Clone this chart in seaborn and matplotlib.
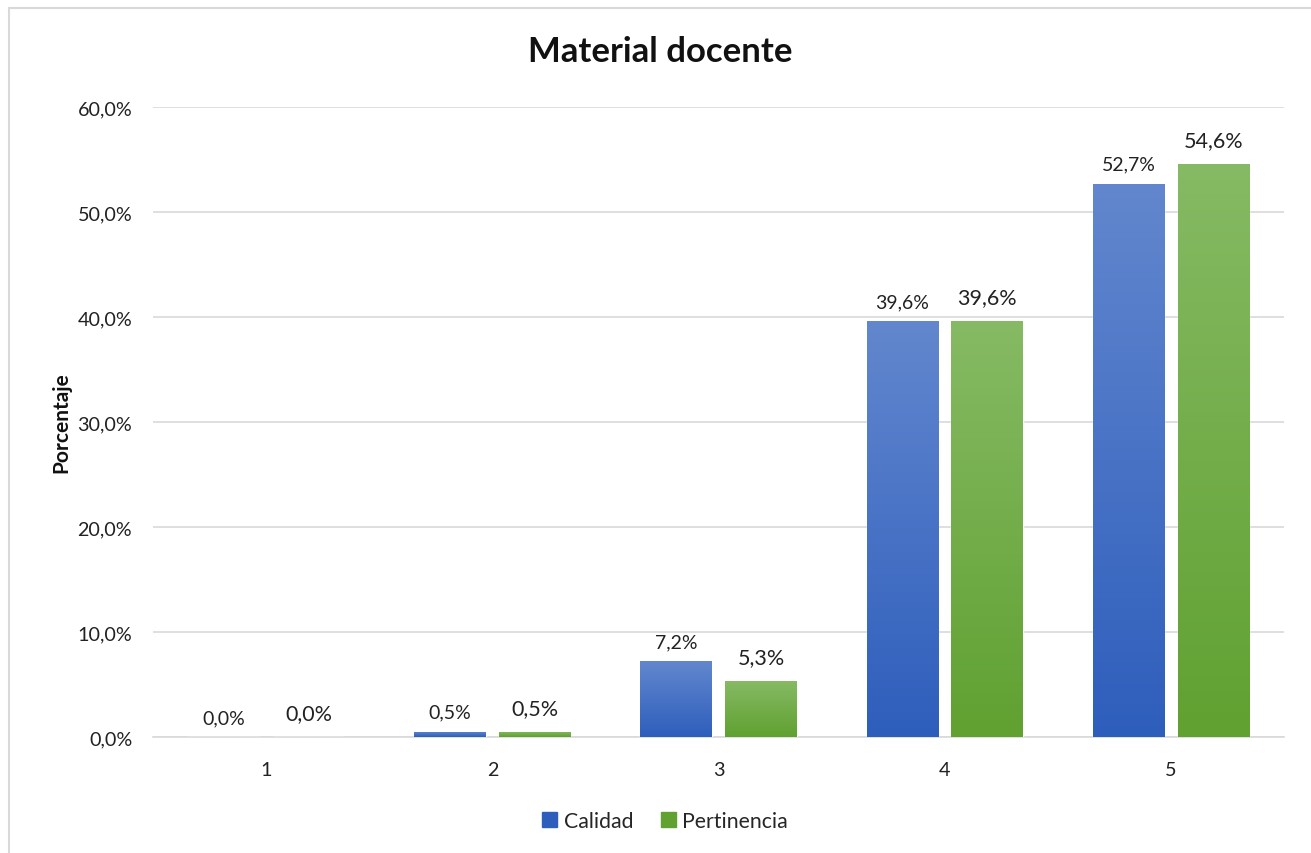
import warnings
warnings.filterwarnings("ignore")

import matplotlib
matplotlib.use("Agg")
import matplotlib.pyplot as plt
from matplotlib.colors import LinearSegmentedColormap
from matplotlib.patches import Rectangle
from matplotlib.ticker import FuncFormatter, MultipleLocator
import seaborn as sns
import pandas as pd
import numpy as np

# Data
puntajes = ["1", "2", "3", "4", "5"]
calidad = [0.0, 0.5, 7.2, 39.6, 52.7]
pertinencia = [0.0, 0.5, 5.3, 39.6, 54.6]
series = ["Calidad", "Pertinencia"]

df = pd.DataFrame({
    "Puntaje": puntajes * 2,
    "Serie": [series[0]] * len(puntajes) + [series[1]] * len(puntajes),
    "Valor": calidad + pertinencia,
})

sns.set_theme(style="white")
plt.rcParams['font.family'] = ['Lato', 'DejaVu Sans']

# Excel-like gradient colours (top -> bottom)
grad = {
    "Calidad": ("#6287CE", "#2E5EBC"),
    "Pertinencia": ("#86BA64", "#60A131"),
}
palette = {"Calidad": "#4472C4", "Pertinencia": "#70AD47"}

fig = plt.figure(figsize=(13.11, 8.54), dpi=100)
ax = fig.add_axes([153 / 1311, 1 - 738 / 854, (1284 - 153) / 1311, (738 - 108) / 854])

sns.barplot(data=df, x="Puntaje", y="Valor", hue="Serie", palette=palette,
            width=0.75, gap=0.16, ax=ax, legend=True, zorder=3)

ax.set_ylim(0, 60)
ax.yaxis.set_major_locator(MultipleLocator(10))
ax.yaxis.set_major_formatter(FuncFormatter(lambda v, _: f"{v:.1f}%".replace(".", ",")))
ax.grid(axis="y", color="#D9D9D9", linewidth=1.2, zorder=0)
ax.set_axisbelow(True)
for s in ["top", "right", "left"]:
    ax.spines[s].set_visible(False)
ax.spines["bottom"].set_color("#D9D9D9")
ax.spines["bottom"].set_linewidth(1.2)
ax.tick_params(axis="both", length=0, labelsize=14.2, colors="#222222")
ax.tick_params(axis="y", pad=15)
ax.tick_params(axis="x", pad=17)
ax.set_xlabel("")
ax.set_ylabel("Porcentaje", fontsize=15, fontweight="bold", labelpad=4, color="#111111")

# gradient fill clipped to each bar
xlim = ax.get_xlim()
for container, name in zip(ax.containers, series):
    cmap = LinearSegmentedColormap.from_list(name, [grad[name][1], grad[name][0]])
    g = np.linspace(0, 1, 256).reshape(-1, 1)
    for bar in container:
        x0, y0 = bar.get_x(), bar.get_y()
        w, h = bar.get_width(), bar.get_height()
        if h <= 0:
            continue
        im = ax.imshow(g, cmap=cmap, origin="lower", aspect="auto",
                       extent=[x0, x0 + w, y0, y0 + h], zorder=4)
        im.set_clip_path(bar)
ax.set_xlim(xlim)
ax.set_ylim(0, 60)

# data labels
fmt = lambda v: f"{v:.1f}%".replace(".", ",")
ax.bar_label(ax.containers[0], labels=[fmt(v) for v in calidad], padding=8,
             fontsize=14, color="#222222", zorder=5)
ax.bar_label(ax.containers[1], labels=[fmt(v) for v in pertinencia], padding=10,
             fontsize=15.5, color="#222222", zorder=5)

fig.suptitle("Material docente", x=660 / 1311, y=1 - 52 / 854, va="center",
             fontsize=25, fontweight="bold", color="#111111")

# legend at bottom
handles, labels = ax.get_legend_handles_labels()
ax.get_legend().remove()
for hnd, name in zip(handles, labels):
    hnd.set_color(grad[name][1])
fig.legend(handles, labels, loc="center", bbox_to_anchor=(665 / 1311, 1 - 822 / 854),
           ncol=2, frameon=False, fontsize=15.3, handlelength=0.7, handleheight=0.7,
           handletextpad=0.3, columnspacing=1.3)

# chart frame
fig.patches.append(Rectangle((9 / 1311, -0.01), 1.02, 1 - 9 / 854 + 0.01, transform=fig.transFigure,
                             fill=False, edgecolor="#D9D9D9", linewidth=1.5))

fig.savefig("out.png", dpi=100)
